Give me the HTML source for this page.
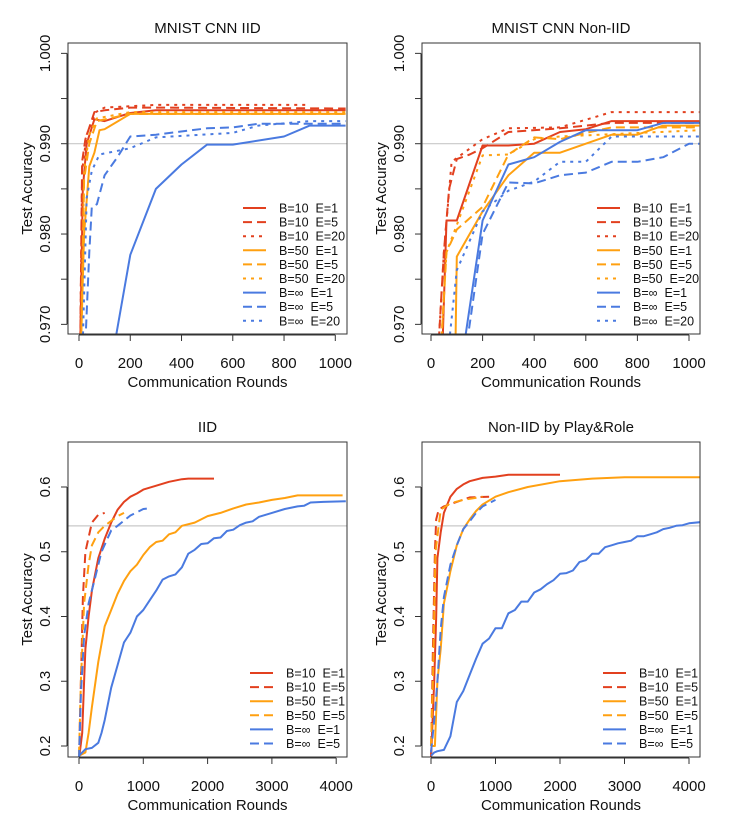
<!DOCTYPE html>
<html><head><meta charset="utf-8"><style>
body{margin:0;background:#fff}
svg{display:block;font-family:"Liberation Sans",sans-serif}
</style></head><body>
<svg id="c" width="741" height="816" viewBox="0 0 741 816"></svg>
<script>
const NS="http://www.w3.org/2000/svg";
const svg=document.getElementById('c');
const RED="#e2401f",ORG="#ffa010",BLU="#4a7ae0";
const legendTop=["B=10  E=1","B=10  E=5","B=10  E=20","B=50  E=1","B=50  E=5","B=50  E=20","B=\u221e  E=1","B=\u221e  E=5","B=\u221e  E=20"];
const legendBot=["B=10  E=1","B=10  E=5","B=50  E=1","B=50  E=5","B=\u221e  E=1","B=\u221e  E=5"];
// series data: [round, accuracy]
const tl_b10e1=[[5,0.968],[15,0.985],[30,0.990],[60,0.9927],[100,0.9925],[200,0.9934],[300,0.9937],[1040,0.9937]];
const tl_b10e5=[[5,0.968],[12,0.988],[25,0.9905],[60,0.9935],[100,0.9937],[200,0.9940],[300,0.9940],[1040,0.9939]];
const tl_b10e20=[[5,0.968],[12,0.987],[30,0.991],[65,0.9935],[100,0.994],[300,0.9943],[900,0.9943]];
const tl_b50e1=[[8,0.968],[20,0.980],[40,0.9875],[60,0.989],[80,0.9915],[100,0.9916],[200,0.9933],[1040,0.9933]];
const tl_b50e5=[[8,0.968],[20,0.986],[40,0.990],[70,0.9925],[200,0.9933],[1040,0.9933]];
const tl_b50e20=[[8,0.968],[20,0.987],[40,0.991],[70,0.9928],[200,0.9935],[1040,0.9935]];
const tl_binfe1=[[140,0.968],[200,0.9777],[300,0.985],[400,0.9877],[500,0.9899],[600,0.9899],[800,0.9908],[900,0.9920],[1040,0.9920]];
const tl_binfe5=[[25,0.968],[40,0.978],[50,0.983],[70,0.9833],[100,0.9865],[150,0.9885],[200,0.9908],[300,0.9910],[500,0.9917],[600,0.9918],[700,0.9922],[1040,0.9922]];
const tl_binfe20=[[15,0.968],[30,0.984],[50,0.9870],[80,0.9888],[200,0.9895],[300,0.9907],[600,0.9912],[700,0.9920],[900,0.9925],[1040,0.9925]];
const tr_b10e1=[[45,0.968],[60,0.9815],[100,0.9815],[200,0.9898],[300,0.9898],[400,0.9900],[500,0.9913],[600,0.9916],[700,0.9925],[1040,0.9925]];
const tr_b10e5=[[30,0.968],[50,0.978],[70,0.985],[100,0.9883],[150,0.9888],[200,0.9895],[300,0.9913],[500,0.9917],[700,0.9923],[1040,0.9923]];
const tr_b10e20=[[30,0.968],[50,0.978],[80,0.988],[200,0.9905],[300,0.9917],[500,0.9918],[700,0.9935],[1040,0.9935]];
const tr_b50e1=[[95,0.968],[100,0.9775],[200,0.9825],[300,0.9865],[400,0.989],[500,0.989],[600,0.990],[700,0.991],[800,0.991],[900,0.992],[1040,0.992]];
const tr_b50e5=[[40,0.968],[60,0.978],[100,0.9805],[200,0.983],[300,0.9888],[400,0.9907],[500,0.9905],[600,0.9912],[700,0.9918],[1040,0.9918]];
const tr_b50e20=[[40,0.968],[60,0.978],[100,0.981],[200,0.9887],[300,0.9888],[400,0.9905],[500,0.9908],[1040,0.9915]];
const tr_binfe1=[[130,0.968],[200,0.9815],[300,0.9877],[400,0.9885],[500,0.9902],[600,0.9915],[800,0.9915],[900,0.9923],[1040,0.9923]];
const tr_binfe5=[[140,0.968],[200,0.980],[300,0.9857],[400,0.9856],[500,0.9865],[600,0.9868],[700,0.988],[800,0.988],[900,0.9885],[1000,0.990],[1040,0.990]];
const tr_binfe20=[[70,0.968],[100,0.976],[200,0.9825],[300,0.9848],[400,0.9858],[500,0.988],[600,0.988],[700,0.9908],[1040,0.9908]];
const bl_b10e1=[[0,0.18],[50,0.22],[80,0.3],[100,0.35],[150,0.40],[200,0.44],[300,0.49],[400,0.52],[500,0.545],[600,0.565],[700,0.577],[800,0.585],[900,0.59],[1000,0.596],[1200,0.602],[1400,0.608],[1600,0.612],[1700,0.613],[2100,0.613]];
const bl_b10e5=[[0,0.18],[30,0.3],[60,0.43],[100,0.50],[200,0.545],[300,0.557],[400,0.56]];
const bl_b50e1=[[0,0.185],[100,0.19],[150,0.22],[200,0.26],[300,0.33],[400,0.385],[500,0.41],[600,0.435],[700,0.455],[800,0.47],[900,0.48],[1000,0.495],[1100,0.507],[1200,0.515],[1300,0.517],[1400,0.527],[1500,0.53],[1600,0.54],[1800,0.545],[2000,0.555],[2200,0.56],[2400,0.567],[2600,0.573],[2800,0.576],[3000,0.58],[3200,0.583],[3400,0.587],[4100,0.587]];
const bl_b50e5=[[0,0.185],[30,0.3],[80,0.42],[150,0.48],[200,0.51],[300,0.53],[400,0.54],[600,0.555],[700,0.56]];
const bl_binfe1=[[0,0.185],[100,0.195],[200,0.197],[300,0.205],[350,0.22],[400,0.24],[500,0.29],[600,0.325],[700,0.36],[800,0.375],[900,0.40],[1000,0.41],[1100,0.425],[1200,0.44],[1300,0.457],[1400,0.462],[1500,0.465],[1600,0.476],[1700,0.497],[1800,0.503],[1900,0.512],[2000,0.513],[2100,0.521],[2200,0.522],[2300,0.532],[2400,0.534],[2500,0.541],[2600,0.545],[2700,0.547],[2800,0.554],[3000,0.56],[3200,0.566],[3400,0.57],[3500,0.571],[3600,0.576],[3800,0.577],[4150,0.578]];
const bl_binfe5=[[0,0.18],[30,0.28],[80,0.37],[150,0.42],[250,0.46],[350,0.5],[500,0.533],[600,0.54],[800,0.556],[1000,0.566],[1100,0.567]];
const br_b10e1=[[0,0.18],[50,0.30],[80,0.40],[100,0.49],[150,0.53],[200,0.56],[300,0.585],[400,0.597],[500,0.604],[600,0.609],[800,0.614],[1000,0.616],[1200,0.619],[2000,0.619]];
const br_b10e5=[[0,0.18],[30,0.35],[60,0.50],[80,0.55],[120,0.565],[200,0.57],[400,0.577],[600,0.584],[900,0.585]];
const br_b50e1=[[0,0.2],[60,0.2],[100,0.3],[150,0.35],[200,0.42],[300,0.47],[400,0.51],[500,0.535],[600,0.55],[700,0.563],[800,0.573],[1000,0.585],[1200,0.592],[1500,0.6],[2000,0.609],[2500,0.613],[3000,0.615],[4200,0.615]];
const br_b50e5=[[0,0.2],[30,0.3],[70,0.5],[150,0.565],[300,0.575],[500,0.58],[800,0.585]];
const br_binfe1=[[0,0.185],[50,0.19],[100,0.192],[200,0.194],[300,0.215],[400,0.268],[500,0.285],[600,0.31],[700,0.335],[800,0.358],[900,0.366],[1000,0.382],[1100,0.382],[1200,0.405],[1300,0.41],[1400,0.423],[1500,0.423],[1600,0.437],[1700,0.442],[1800,0.45],[1900,0.456],[2000,0.466],[2100,0.467],[2200,0.471],[2300,0.484],[2400,0.487],[2500,0.497],[2600,0.497],[2700,0.507],[2800,0.51],[2900,0.513],[3000,0.515],[3100,0.517],[3200,0.524],[3300,0.524],[3400,0.527],[3500,0.53],[3600,0.535],[3700,0.537],[3800,0.54],[3900,0.541],[4000,0.544],[4200,0.546]];
const br_binfe5=[[0,0.19],[60,0.25],[100,0.3],[150,0.38],[200,0.43],[300,0.48],[400,0.51],[500,0.535],[600,0.547],[700,0.56],[800,0.57],[1000,0.58]];
const topXTicks=[0,200,400,600,800,1000];
const topYTicks=[0.97,0.975,0.98,0.985,0.99,0.995,1.0];
const topYLabels=["0.970","","0.980","","0.990","","1.000"];
const botXTicks=[0,1000,2000,3000,4000];
const botYTicks=[0.2,0.3,0.4,0.5,0.6];
const botYLabels=["0.2","0.3","0.4","0.5","0.6"];

function el(t,a,p){const e=document.createElementNS(NS,t);for(const k in a)e.setAttribute(k,a[k]);(p||svg).appendChild(e);return e;}
function txt(s,a,p){const e=el('text',a,p);e.textContent=s;return e;}
const styles=[[RED,""],[RED,"9,5"],[RED,"3,5"],[ORG,""],[ORG,"9,5"],[ORG,"3,5"],[BLU,""],[BLU,"9,5"],[BLU,"3,5"]];
const stylesBot=[[RED,""],[RED,"9,5"],[ORG,""],[ORG,"9,5"],[BLU,""],[BLU,"9,5"]];

function panel(o){
  const g=el('g',{});
  
  
  const L=o.box[0],T=o.box[1],R=o.box[2],B=o.box[3];
  const X=v=>o.x0+(v)*o.xs, Y=v=>o.y0-(v-o.yref)*o.ys;
  const cid='clip-'+o.name;
  const cp=el('clipPath',{id:cid},g);el('rect',{x:L,y:T,width:R-L,height:B-T},cp);
  const t=txt(o.title,{x:(L+R)/2,y:T-10,'text-anchor':'middle','font-size':15,fill:'#111'},g);
  
  const rl=el('line',{x1:L,x2:R,y1:Y(o.ref),y2:Y(o.ref),stroke:'#c8c8c8','stroke-width':1.2},g);
  
  const sg=el('g',{'clip-path':`url(#${cid})`},g);
  o.series.forEach((s,i)=>{
    const p=el('polyline',{points:s.map(d=>X(d[0]).toFixed(1)+','+Y(d[1]).toFixed(1)).join(' '),fill:'none',stroke:o.styles[i][0],'stroke-width':2,'stroke-dasharray':o.styles[i][1],'stroke-linejoin':'round'},sg);
    
    
  });
  const bx=el('rect',{x:L,y:T,width:R-L,height:B-T,fill:'none',stroke:'#333','stroke-width':1},g);
  
  const xa=el('g',{},g);
  el('line',{x1:X(o.xt[0]),x2:X(o.xt[o.xt.length-1]),y1:B+1,y2:B+1,stroke:'#333'},xa);
  o.xt.forEach(v=>{el('line',{x1:X(v),x2:X(v),y1:B+1,y2:B+7,stroke:'#333'},xa);
    txt(String(v),{x:X(v),y:B+34,'text-anchor':'middle','font-size':15,fill:'#111'},xa);});
  const xt=txt('Communication Rounds',{x:(L+R)/2,y:B+53,'text-anchor':'middle','font-size':15,fill:'#111'},g);
  
  const ya=el('g',{},g);
  el('line',{x1:L-1,x2:L-1,y1:Y(o.yt[0]),y2:Y(o.yt[o.yt.length-1]),stroke:'#333'},ya);
  o.yt.forEach((v,i)=>{el('line',{x1:L-1,x2:L-7,y1:Y(v),y2:Y(v),stroke:'#333'},ya);
    if(o.yl[i]) txt(o.yl[i],{x:0,y:0,transform:`translate(${L-18},${Y(v)}) rotate(-90)`,'text-anchor':'middle','font-size':15,fill:'#111'},ya);});
  const yt=txt('Test Accuracy',{x:0,y:0,transform:`translate(${L-36},${(T+B)/2}) rotate(-90)`,'text-anchor':'middle','font-size':15,fill:'#111'},g);
  
  const lg=el('g',{},g);
  o.labels.forEach((s,i)=>{const y=o.leg[1]+i*14.1;
    const e=el('g',{},lg);
    el('line',{x1:o.leg[0],x2:o.leg[0]+23,y1:y,y2:y,stroke:o.styles[i][0],'stroke-width':2,'stroke-dasharray':o.styles[i][1]},e);
    txt(s,{x:o.leg[0]+36,y:y+4.5,'font-size':12.5,fill:'#111','xml:space':'preserve'},e).style.whiteSpace='pre';});
}
const topYs=9033, botYs=647.5;
panel({name:'panel-mnist-iid',title:'MNIST CNN IID',box:[68,43,347,334],x0:79,xs:0.2563,y0:143.7,yref:0.99,ys:topYs,ref:0.99,
  series:[tl_b10e1,tl_b10e5,tl_b10e20,tl_b50e1,tl_b50e5,tl_b50e20,tl_binfe1,tl_binfe5,tl_binfe20],styles:styles,labels:legendTop,
  xt:topXTicks,yt:topYTicks,yl:topYLabels,leg:[243,208]});
panel({name:'panel-mnist-noniid',title:'MNIST CNN Non-IID',box:[422,43,700,334],x0:431,xs:0.258,y0:143.7,yref:0.99,ys:topYs,ref:0.99,
  series:[tr_b10e1,tr_b10e5,tr_b10e20,tr_b50e1,tr_b50e5,tr_b50e20,tr_binfe1,tr_binfe5,tr_binfe20],styles:styles,labels:legendTop,
  xt:topXTicks,yt:topYTicks,yl:topYLabels,leg:[597,208]});
panel({name:'panel-iid',title:'IID',box:[68,442,347,757],x0:79,xs:0.0643,y0:487,yref:0.6,ys:botYs,ref:0.54,
  series:[bl_b10e1,bl_b10e5,bl_b50e1,bl_b50e5,bl_binfe1,bl_binfe5],styles:stylesBot,labels:legendBot,
  xt:botXTicks,yt:botYTicks,yl:botYLabels,leg:[250,673]});
panel({name:'panel-noniid-play-role',title:'Non-IID by Play&Role',box:[422,442,700,757],x0:431,xs:0.0645,y0:487,yref:0.6,ys:botYs,ref:0.54,
  series:[br_b10e1,br_b10e5,br_b50e1,br_b50e5,br_binfe1,br_binfe5],styles:stylesBot,labels:legendBot,
  xt:botXTicks,yt:botYTicks,yl:botYLabels,leg:[603,673]});
</script>
</body></html>
